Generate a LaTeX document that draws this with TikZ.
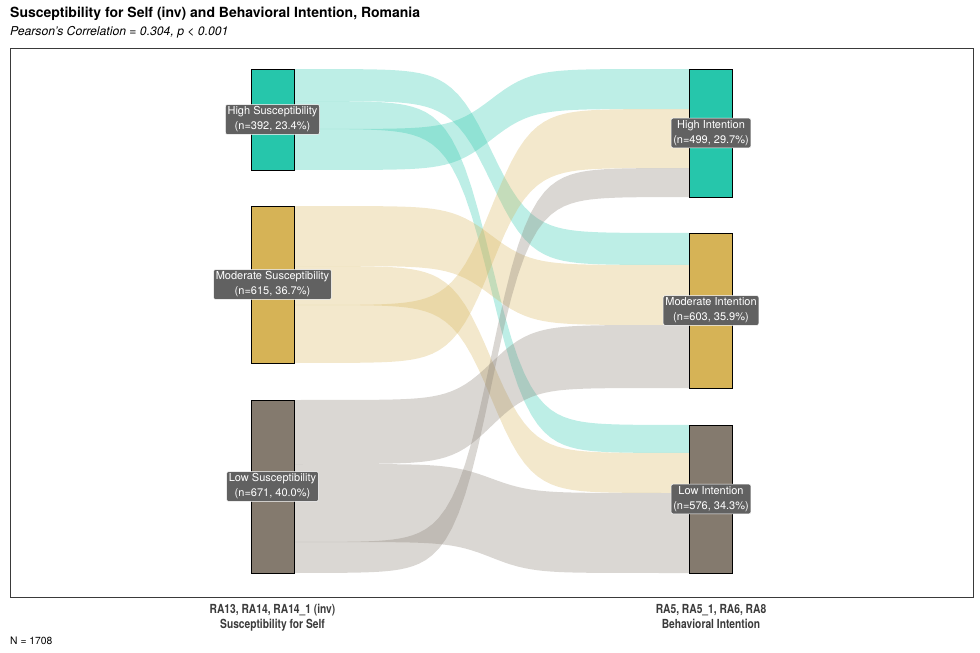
\documentclass[tikz,border=0pt]{standalone}
\usepackage{fontspec}
\setmainfont{TeX Gyre Heros}
\newfontfamily\axisfont[FakeStretch=0.82]{TeX Gyre Heros}
\definecolor{highcol}{HTML}{26C6AB}
\definecolor{modcol}{HTML}{D6B356}
\definecolor{lowcol}{HTML}{847A6E}
\definecolor{tagcol}{HTML}{616161}
\definecolor{axiscol}{HTML}{3A3A3A}
% ribbon: colour, left top, left bottom, right top, right bottom
\newcommand\ribbon[5]{%
  \fill[#1, fill opacity=.3]
    plot[domain=0:1, samples=61, variable=\u] ({294+395*\u}, {#2+(#4-#2)*(0.5+0.5*tanh(10*(\u-0.5))/tanh(5))})
    -- plot[domain=0:1, samples=61, variable=\u] ({689-395*\u}, {#5+(#3-#5)*(0.5+0.5*tanh(10*(\u-0.5))/tanh(5))})
    -- cycle;}
\begin{document}
\begin{tikzpicture}[x=1pt, y=-1pt,
  bar/.style={draw=black, line width=0.9pt, minimum width=43pt, inner sep=0pt, outer sep=0pt},
  tag/.style={fill=tagcol, draw=white, line width=0.5pt, rounded corners=2pt, text=white,
    align=center, inner sep=2.2pt, font=\fontsize{11}{15}\selectfont},
  axislab/.style={align=center, text=axiscol, font=\axisfont\bfseries\fontsize{12.5}{15}\selectfont}]
  \useasboundingbox (0,0) rectangle (980,653);
  \node[anchor=base west, inner sep=0pt, font=\bfseries\fontsize{14}{16}\selectfont] (title) at (10,17.5)
    {Susceptibility for Self (inv) and Behavioral Intention, Romania};
  \node[anchor=base west, inner sep=0pt, font=\itshape\fontsize{12.2}{14}\selectfont] (subtitle) at (10,35)
    {Pearson's Correlation = 0.304, p < 0.001};
  \draw[axiscol, line width=0.7pt] (10,48) rectangle (973,597); % panel

  % flows
  \ribbon{highcol}{69}{101}{233}{265}
  \ribbon{highcol}{101}{129}{425}{453}
  \ribbon{highcol}{129}{170}{69}{109}
  \ribbon{modcol}{206}{266}{265}{325}
  \ribbon{modcol}{266}{305}{453}{493}
  \ribbon{modcol}{305}{363}{109}{168}
  \ribbon{lowcol}{400}{464}{325}{388}
  \ribbon{lowcol}{464}{542}{493}{573}
  \ribbon{lowcol}{542}{573}{168}{197}

  % strata
  \node[bar, fill=highcol, minimum height=101pt] (hs) at (272.5,119.5) {};
  \node[bar, fill=modcol, minimum height=157pt] (ms) at (272.5,284.5) {};
  \node[bar, fill=lowcol, minimum height=173pt] (ls) at (272.5,486.5) {};
  \node[bar, fill=highcol, minimum height=128pt] (hi) at (711,133) {};
  \node[bar, fill=modcol, minimum height=155pt] (mi) at (711,310.5) {};
  \node[bar, fill=lowcol, minimum height=148pt] (li) at (711,499) {};

  \node[tag] at (hs) {High Susceptibility\\(n=392, 23.4\%)};
  \node[tag] at (ms) {Moderate Susceptibility\\(n=615, 36.7\%)};
  \node[tag] at (ls) {Low Susceptibility\\(n=671, 40.0\%)};
  \node[tag] at (hi) {High Intention\\(n=499, 29.7\%)};
  \node[tag] at (mi) {Moderate Intention\\(n=603, 35.9\%)};
  \node[tag] at (li) {Low Intention\\(n=576, 34.3\%)};

  \node[axislab, anchor=north] (xleft) at (272.5,601) {RA13, RA14, RA14\_1 (inv)\\Susceptibility for Self};
  \node[axislab, anchor=north] (xright) at (711,601) {RA5, RA5\_1, RA6, RA8\\Behavioral Intention};
  \node[anchor=base west, inner sep=0pt, font=\fontsize{10.3}{12}\selectfont] (ncount) at (10,644) {N = 1708};
\end{tikzpicture}
\end{document}
